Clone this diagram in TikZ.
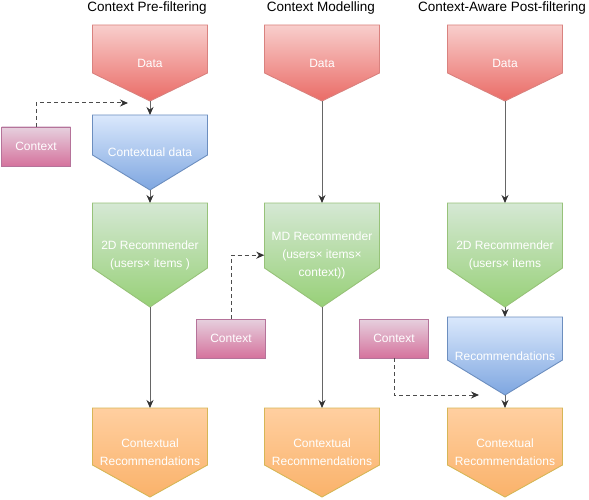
\documentclass[tikz,border=0pt]{standalone}
\usepackage{fontspec}
\setmainfont{Liberation Sans}
\usepackage{xcolor}
\usetikzlibrary{arrows.meta}
\definecolor{redtop}{HTML}{F8CECC}
\definecolor{redbot}{HTML}{EA6B66}
\definecolor{redline}{HTML}{D9827F}
\definecolor{bluetop}{HTML}{DAE8FC}
\definecolor{bluebot}{HTML}{7EA6E0}
\definecolor{blueline}{HTML}{6C8EBF}
\definecolor{greentop}{HTML}{D5E8D4}
\definecolor{greenbot}{HTML}{97D077}
\definecolor{greenline}{HTML}{97C279}
\definecolor{orangetop}{HTML}{FFCFA0}
\definecolor{orangebot}{HTML}{FAB26A}
\definecolor{orangeline}{HTML}{D6B656}
\definecolor{pinktop}{HTML}{E6D0DE}
\definecolor{pinkbot}{HTML}{D5739D}
\definecolor{pinkline}{HTML}{B5739A}

% #1 style, #2 name, #3 x, #4 top, #5 body height, #6 tip height, #7 text
\newcommand{\pentanode}[7]{%
  \path[#1] (#3-57.5,#4) -- (#3+57.5,#4) -- (#3+57.5,#4+#5) -- (#3,#4+#5+#6)
    -- (#3-57.5,#4+#5) -- cycle;
  \node[boxtext,minimum height={#5pt+#6pt}] (#2) at (#3,#4) {#7};%
}

\begin{document}
\begin{tikzpicture}[x=1pt,y=-1pt,every node/.style={font=\fontsize{12}{18}\selectfont},
  boxtext/.style={text=white,align=center,minimum width=115pt,inner sep=0pt,anchor=north},
  databox/.style={top color=redtop,bottom color=redbot,draw=redline,line width=0.9pt},
  bluebox/.style={top color=bluetop,bottom color=bluebot,draw=blueline,line width=0.9pt},
  recbox/.style={top color=greentop,bottom color=greenbot,draw=greenline,line width=0.9pt},
  outbox/.style={top color=orangetop,bottom color=orangebot,draw=orangeline,line width=0.9pt},
  ctxbox/.style={rectangle,top color=pinktop,bottom color=pinkbot,draw=pinkline,line width=0.9pt,
    minimum width=69pt,minimum height=39pt,inner sep=0pt,text=white},
  title/.style={font=\fontsize{13.5}{16}\selectfont},
  flow/.style={draw=black!60,line width=1pt,-{Stealth[length=8pt,width=7pt,color=black!80]}},
  ctxflow/.style={draw=black!70,line width=1pt,dash pattern=on 4pt off 3pt,
    -{Stealth[length=8pt,width=7pt,color=black!80]}}]
\useasboundingbox (0,0) rectangle (589,500);

\node[title] (t1) at (147,8) {Context Pre-filtering};
\node[title] (t2) at (321,8) {Context Modelling};
\node[title] (t3) at (502,8) {Context-Aware Post-filtering};

\pentanode{databox}{data1}{150}{25}{48}{28}{Data}
\pentanode{bluebox}{cdata}{150}{115}{40}{35}{Contextual data}
\pentanode{recbox}{rec1}{150}{203}{65}{39}{2D Recommender\\(users× items )}
\pentanode{outbox}{out1}{150}{408}{57}{32}{Contextual\\Recommendations}

\pentanode{databox}{data2}{322}{25}{48}{28}{Data}
\pentanode{recbox}{mdrec}{322}{203}{65}{39}{MD Recommender\\(users× items×\\context))}
\pentanode{outbox}{out2}{322}{408}{57}{32}{Contextual\\Recommendations}

\pentanode{databox}{data3}{505}{25}{48}{28}{Data}
\pentanode{recbox}{rec3}{505}{203}{65}{39}{2D Recommender\\(users× items}
\pentanode{bluebox}{recs}{505}{317}{43}{35}{Recommendations}
\pentanode{outbox}{out3}{505}{408}{57}{32}{Contextual\\Recommendations}

\node[ctxbox] (ctx1) at (36,146.5) {Context};
\node[ctxbox] (ctx2) at (231,338.5) {Context};
\node[ctxbox] (ctx3) at (394,338.5) {Context};

\coordinate (c1end) at (128,103);
\coordinate (c3end) at (479,395);

\draw[flow] (data1.south) -- (cdata.north);
\draw[flow] (cdata.south) -- (rec1.north);
\draw[flow] (rec1.south) -- (out1.north);
\draw[flow] (data2.south) -- (mdrec.north);
\draw[flow] (mdrec.south) -- (out2.north);
\draw[flow] (data3.south) -- (rec3.north);
\draw[flow] (rec3.south) -- (recs.north);
\draw[flow] (recs.south) -- (out3.north);

\draw[ctxflow] (ctx1.north) |- (c1end);
\draw[ctxflow] (ctx2.north) |- (mdrec.west);
\draw[ctxflow] (ctx3.south) |- (c3end);
\end{tikzpicture}
\end{document}
